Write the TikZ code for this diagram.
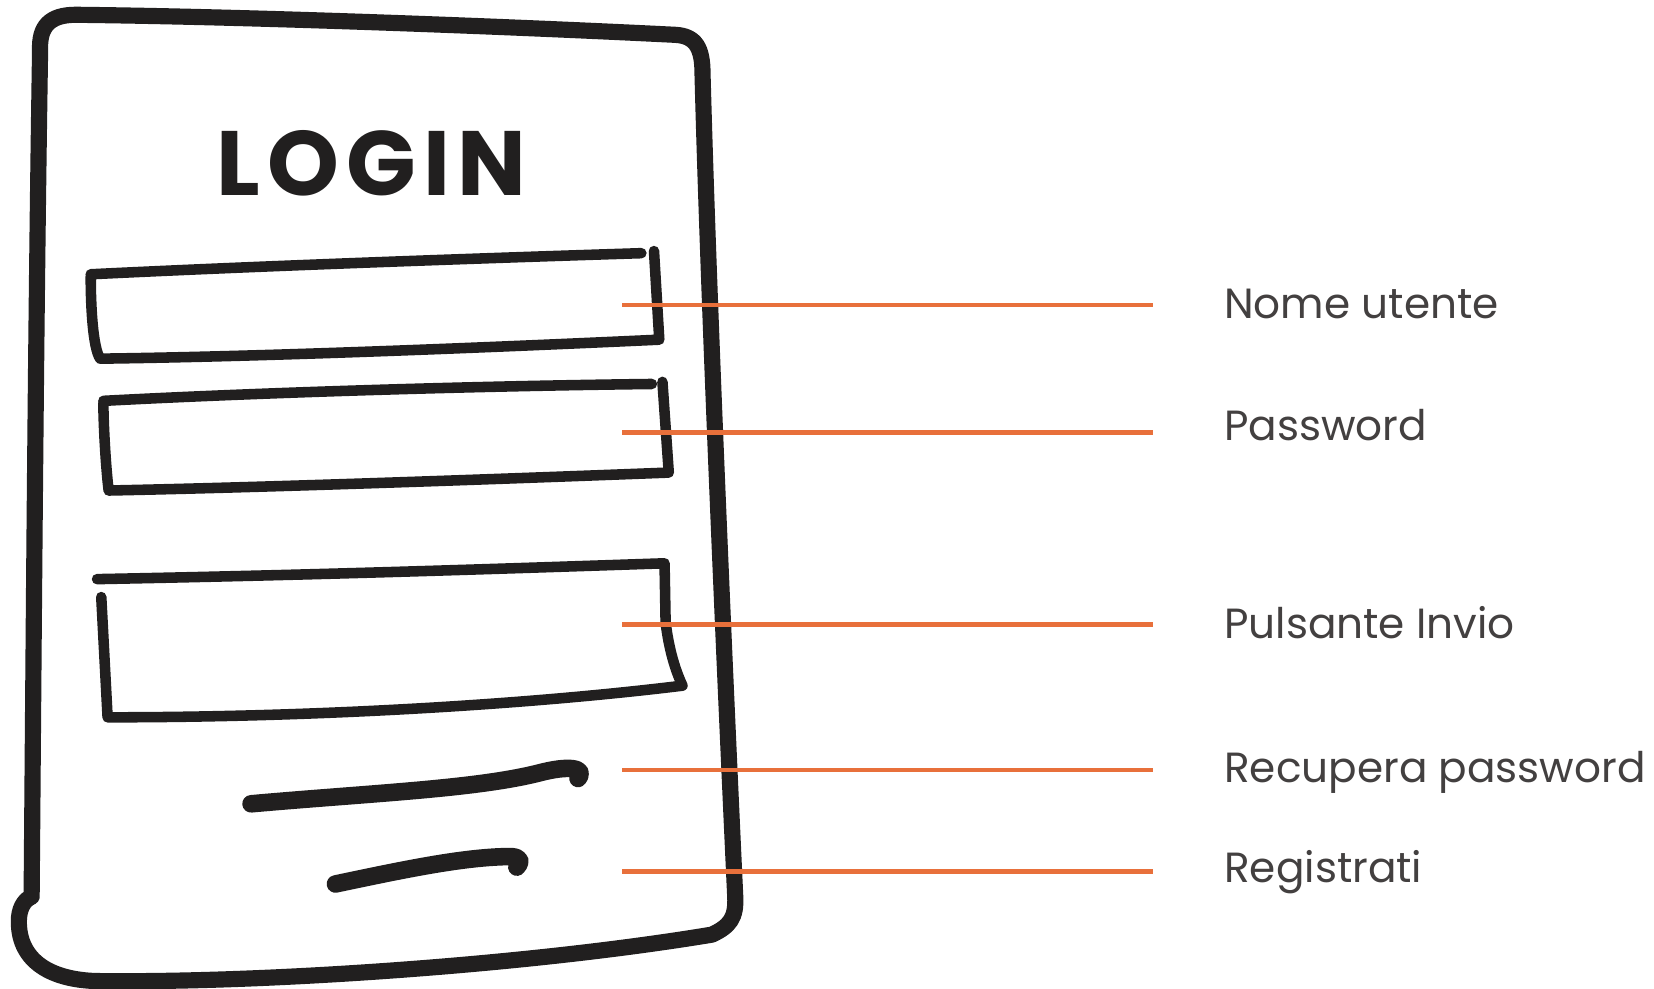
\documentclass[tikz,border=0pt]{standalone}
\usepackage{fontspec}
\usepackage{tikz}
\usetikzlibrary{calc}
\setmainfont{Poppins}
\newfontfamily\sketchfont[LetterSpace=8]{Poppins}
\definecolor{orange}{rgb}{0.91, 0.44, 0.23}
\definecolor{ink}{rgb}{0.13, 0.12, 0.12}

\begin{document}
\begin{tikzpicture}[x=0.10548mm,y=-0.10548mm,line cap=round,line join=round,
	screen/.style={ink,line width=4.6pt},
	box/.style={ink,line width=3pt},
	scribble/.style={ink,line width=5pt},
	callout/.style={orange,line width=1.3pt,line cap=butt,shorten >=7.07mm},
	calltext/.style={anchor=base west,inner sep=0pt,text=ink!85,font=\fontsize{12}{14}\selectfont}]
	\useasboundingbox (0,0) rectangle (1568,937);
	\draw[screen] (30,848) .. controls (32,600) and (34,300) .. (38,48) .. controls (37,25) and (47,14) .. (72,14) .. controls (250,16) and (500,26) .. (640,33) .. controls (660,34) and (666,46) .. (666,70) .. controls (672,300) and (690,700) .. (697,850) .. controls (698,870) and (692,878) .. (675,886) .. controls (500,915) and (250,932) .. (90,930) .. controls (40,928) and (16,905) .. (18,870) .. controls (19,858) and (25,852) .. (30,850);
	\node[font=\sketchfont\bfseries\fontsize{26}{30}\selectfont,text=ink] (title) at (352,155) {LOGIN};
	\draw[box] (86,260) .. controls (250,252) and (450,245) .. (608,240);
	\draw[box] (620,238) -- (625,322) .. controls (450,330) and (250,338) .. (95,340) .. controls (88,330) and (86,290) .. (86,262);
	\draw[box] (98,380) .. controls (250,372) and (450,366) .. (618,364);
	\draw[box] (628,362) -- (634,448) .. controls (450,455) and (250,462) .. (103,465) .. controls (100,440) and (98,400) .. (98,382);
	\draw[box] (92,549) .. controls (300,545) and (450,540) .. (630,534) -- (631,590) .. controls (634,615) and (640,635) .. (647,650) .. controls (500,668) and (300,680) .. (102,680) -- (96,566);
	\draw[scribble] (238,762) .. controls (350,752) and (450,748) .. (510,733) .. controls (540,725) and (556,728) .. (548,738);
	\draw[scribble] (318,838) .. controls (380,825) and (440,812) .. (485,812) .. controls (495,813) and (494,818) .. (490,822);
	\coordinate (nome-in) at (590,289);
	\coordinate (pass-in) at (590,410);
	\coordinate (invio-in) at (590,592);
	\coordinate (recupera-in) at (590,730);
	\coordinate (reg-in) at (590,826);
	\node[calltext] (nome) at (1160,302) {Nome utente};
	\node[calltext] (pass) at (1160,418) {Password};
	\node[calltext] (invio) at (1160,605) {Pulsante Invio};
	\node[calltext] (recupera) at (1160,742) {Recupera password};
	\node[calltext] (reg) at (1160,837) {Registrati};
	\draw[callout] (nome-in) -- (nome-in -| nome.west);
	\draw[callout] (pass-in) -- (pass-in -| pass.west);
	\draw[callout] (invio-in) -- (invio-in -| invio.west);
	\draw[callout] (recupera-in) -- (recupera-in -| recupera.west);
	\draw[callout] (reg-in) -- (reg-in -| reg.west);
\end{tikzpicture}
\end{document}
